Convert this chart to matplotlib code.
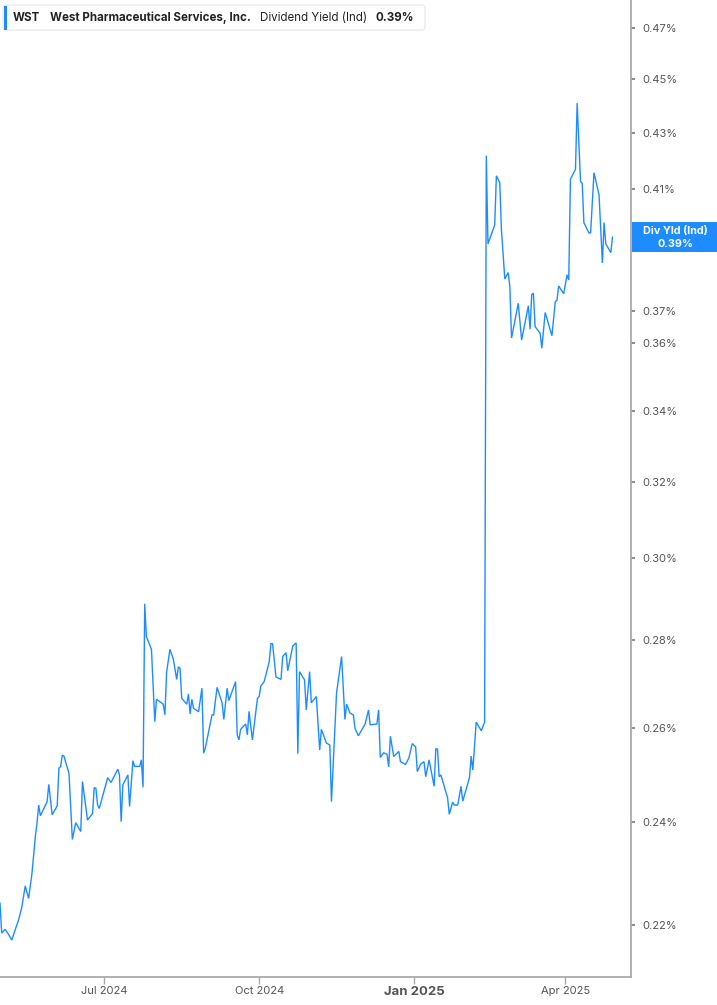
import matplotlib
matplotlib.use("Agg")
import matplotlib.pyplot as plt
import matplotlib.dates as mdates
import matplotlib.ticker as mticker
from matplotlib.patches import FancyBboxPatch, Rectangle
from matplotlib.transforms import IdentityTransform
import pandas as pd

plt.rcParams['font.family'] = ['Inter', 'DejaVu Sans']

dates = [
    '2024-04-30', '2024-05-01', '2024-05-03', '2024-05-05', '2024-05-07', '2024-05-09',
    '2024-05-11', '2024-05-13', '2024-05-15', '2024-05-17', '2024-05-19', '2024-05-21',
    '2024-05-22', '2024-05-23', '2024-05-24', '2024-05-28', '2024-05-29', '2024-05-31',
    '2024-06-03', '2024-06-04', '2024-06-05', '2024-06-06', '2024-06-07', '2024-06-10',
    '2024-06-12', '2024-06-14', '2024-06-17', '2024-06-18', '2024-06-21', '2024-06-24',
    '2024-06-25', '2024-06-26', '2024-06-27', '2024-06-28', '2024-07-03', '2024-07-05',
    '2024-07-09', '2024-07-10', '2024-07-11', '2024-07-12', '2024-07-15', '2024-07-16',
    '2024-07-18', '2024-07-19', '2024-07-22', '2024-07-23', '2024-07-24', '2024-07-25',
    '2024-07-26', '2024-07-29', '2024-07-31', '2024-08-01', '2024-08-05', '2024-08-06',
    '2024-08-07', '2024-08-09', '2024-08-11', '2024-08-13', '2024-08-14', '2024-08-15',
    '2024-08-16', '2024-08-19', '2024-08-20', '2024-08-21', '2024-08-22', '2024-08-23',
    '2024-08-26', '2024-08-28', '2024-08-29', '2024-08-30', '2024-09-03', '2024-09-04',
    '2024-09-06', '2024-09-09', '2024-09-10', '2024-09-12', '2024-09-13', '2024-09-17',
    '2024-09-18', '2024-09-19', '2024-09-20', '2024-09-23', '2024-09-24', '2024-09-25',
    '2024-09-27', '2024-09-30', '2024-10-01', '2024-10-02', '2024-10-04', '2024-10-07',
    '2024-10-08', '2024-10-09', '2024-10-11', '2024-10-14', '2024-10-15', '2024-10-17',
    '2024-10-18', '2024-10-21', '2024-10-23', '2024-10-24', '2024-10-25', '2024-10-28',
    '2024-10-29', '2024-10-31', '2024-11-01', '2024-11-04', '2024-11-06', '2024-11-07',
    '2024-11-10', '2024-11-12', '2024-11-13', '2024-11-16', '2024-11-19', '2024-11-21',
    '2024-11-22', '2024-11-24', '2024-11-26', '2024-11-27', '2024-11-29', '2024-12-03',
    '2024-12-05', '2024-12-06', '2024-12-10', '2024-12-11', '2024-12-12', '2024-12-14',
    '2024-12-16', '2024-12-17', '2024-12-18', '2024-12-20', '2024-12-23', '2024-12-24',
    '2024-12-27', '2024-12-29', '2024-12-31', '2025-01-02', '2025-01-03', '2025-01-05',
    '2025-01-07', '2025-01-08', '2025-01-10', '2025-01-13', '2025-01-14', '2025-01-15',
    '2025-01-16', '2025-01-17', '2025-01-21', '2025-01-22', '2025-01-24', '2025-01-25',
    '2025-01-27', '2025-01-29', '2025-01-30', '2025-02-03', '2025-02-04', '2025-02-05',
    '2025-02-07', '2025-02-10', '2025-02-12', '2025-02-13', '2025-02-14', '2025-02-18',
    '2025-02-19', '2025-02-21', '2025-02-22', '2025-02-24', '2025-02-26', '2025-02-27',
    '2025-02-28', '2025-03-04', '2025-03-06', '2025-03-10', '2025-03-11', '2025-03-12',
    '2025-03-13', '2025-03-14', '2025-03-17', '2025-03-18', '2025-03-20', '2025-03-24',
    '2025-03-26', '2025-03-27', '2025-03-28', '2025-03-31', '2025-04-02', '2025-04-03',
    '2025-04-04', '2025-04-07', '2025-04-08', '2025-04-10', '2025-04-11', '2025-04-12',
    '2025-04-15', '2025-04-16', '2025-04-18', '2025-04-21', '2025-04-23', '2025-04-24',
    '2025-04-25', '2025-04-28', '2025-04-29',
]

yield_pct = [
    0.2241, 0.2185, 0.2192, 0.2183, 0.2172, 0.2191,
    0.2209, 0.2234, 0.2274, 0.2250, 0.2298, 0.2371,
    0.2398, 0.2435, 0.2413, 0.2442, 0.2478, 0.2415,
    0.2433, 0.2512, 0.2515, 0.2540, 0.2538, 0.2501,
    0.2365, 0.2399, 0.2381, 0.2484, 0.2404, 0.2418,
    0.2471, 0.2470, 0.2435, 0.2428, 0.2492, 0.2482,
    0.2510, 0.2498, 0.2401, 0.2477, 0.2498, 0.2432,
    0.2528, 0.2516, 0.2516, 0.2530, 0.2472, 0.2887,
    0.2808, 0.2778, 0.2613, 0.2663, 0.2652, 0.2628,
    0.2724, 0.2778, 0.2755, 0.2708, 0.2737, 0.2734,
    0.2665, 0.2652, 0.2675, 0.2630, 0.2663, 0.2643,
    0.2635, 0.2688, 0.2544, 0.2555, 0.2628, 0.2628,
    0.2690, 0.2655, 0.2618, 0.2688, 0.2660, 0.2703,
    0.2584, 0.2573, 0.2596, 0.2608, 0.2584, 0.2636,
    0.2573, 0.2665, 0.2669, 0.2693, 0.2703, 0.2749,
    0.2792, 0.2791, 0.2714, 0.2708, 0.2761, 0.2770,
    0.2728, 0.2786, 0.2793, 0.2543, 0.2726, 0.2707,
    0.2639, 0.2726, 0.2655, 0.2669, 0.2551, 0.2596,
    0.2566, 0.2562, 0.2442, 0.2677, 0.2761, 0.2618,
    0.2652, 0.2632, 0.2628, 0.2598, 0.2582, 0.2608,
    0.2639, 0.2606, 0.2608, 0.2639, 0.2535, 0.2545,
    0.2542, 0.2515, 0.2581, 0.2537, 0.2548, 0.2526,
    0.2520, 0.2534, 0.2565, 0.2558, 0.2505, 0.2521,
    0.2526, 0.2494, 0.2530, 0.2474, 0.2554, 0.2553,
    0.2494, 0.2498, 0.2450, 0.2416, 0.2441, 0.2435,
    0.2435, 0.2474, 0.2443, 0.2492, 0.2538, 0.2508,
    0.2612, 0.2593, 0.2612, 0.4218, 0.3915, 0.3978,
    0.4147, 0.4123, 0.3962, 0.3800, 0.3821, 0.3776,
    0.3615, 0.3723, 0.3609, 0.3715, 0.3642, 0.3750,
    0.3755, 0.3650, 0.3630, 0.3584, 0.3694, 0.3622,
    0.3728, 0.3732, 0.3778, 0.3753, 0.3814, 0.3797,
    0.4135, 0.4170, 0.4410, 0.4127, 0.4121, 0.3986,
    0.3951, 0.3952, 0.4158, 0.4081, 0.3852, 0.3986,
    0.3915, 0.3886, 0.3937,
]

ytick_values = [0.22, 0.24, 0.26, 0.28, 0.30, 0.32, 0.34, 0.36, 0.37, 0.39, 0.41, 0.43, 0.45, 0.47]
ytick_labels = [f'{v:.2f}%' for v in ytick_values]
xtick_dates = ['2024-07-01', '2024-10-01', '2025-01-01', '2025-04-01']
xtick_labels = ['Jul 2024', 'Oct 2024', 'Jan 2025', 'Apr 2025']

ticker_symbol = 'WST'
company = 'West Pharmaceutical Services, Inc.'
metric = 'Dividend Yield (Ind)'
box_title = 'Div Yld (Ind)'

LINE = '#1E8CFF'
W, H = 717, 1005
fig = plt.figure(figsize=(W / 100, H / 100), dpi=100)
ax = fig.add_axes([0, 1 - 977 / H, 631 / W, 977 / H])

x = pd.to_datetime(dates)
ax.plot(x, yield_pct, color=LINE, lw=1.0, solid_joinstyle='miter')

ax.set_yscale('log')
ax.set_ylim(0.21053, 0.4812)
ax.set_xlim(pd.Timestamp('2024-04-30'), pd.Timestamp('2025-05-10'))

ax.yaxis.tick_right()
ax.yaxis.set_major_locator(mticker.FixedLocator(ytick_values))
ax.yaxis.set_major_formatter(mticker.FixedFormatter(ytick_labels))
ax.yaxis.set_minor_locator(mticker.NullLocator())
ax.yaxis.set_minor_formatter(mticker.NullFormatter())
ax.tick_params(axis='y', direction='out', length=3, width=1.2, color='#777',
               labelsize=8, labelcolor='#555', pad=5)

ax.set_xticks(pd.to_datetime(xtick_dates))
ax.set_xticklabels(xtick_labels)
ax.tick_params(axis='x', direction='out', length=5, width=1, color='#aaa',
               labelsize=8, labelcolor='#555', pad=1.5)
for lbl in ax.get_xticklabels():
    if lbl.get_text().startswith('Jan'):
        lbl.set_fontweight('bold')
        lbl.set_fontsize(9.5)

for s in ['left', 'top']:
    ax.spines[s].set_visible(False)
for s in ['right', 'bottom']:
    ax.spines[s].set_color('#aaa')
    ax.spines[s].set_linewidth(1.3)

# header box
idt = IdentityTransform()
hdr = FancyBboxPatch((3, H - 30), 422, 25, boxstyle='round,pad=0,rounding_size=3',
                     transform=idt, facecolor='white', edgecolor='#e6e6e6', lw=0.8)
fig.add_artist(hdr)
fig.add_artist(Rectangle((3.5, H - 29.5), 3.2, 24, transform=idt, facecolor=LINE,
                         edgecolor='none'))
ty = H - 17.5
fig.text(13, ty, ticker_symbol, transform=idt, va='center', ha='left',
         fontsize=8.3, fontweight='bold', color='#222')
fig.text(50, ty, company, transform=idt, va='center', ha='left',
         fontsize=8.3, fontweight='bold', color='#222')
fig.text(260, ty, metric, transform=idt, va='center', ha='left',
         fontsize=8.3, color='#222')
fig.text(376, ty, f'{yield_pct[-1]:.2f}%', transform=idt, va='center', ha='left',
         fontsize=8.3, fontweight='bold', color='#222')

# last-value box on right axis
last_x = mdates.date2num(x[-1])
yd = ax.transData.transform((last_x, yield_pct[-1]))[1]
fig.add_artist(Rectangle((632, yd - 15), W - 632, 30, transform=idt,
                         facecolor=LINE, edgecolor='none', zorder=5))
fig.text(675, yd + 6.5, box_title, transform=idt, ha='center', va='center',
         fontsize=7.8, fontweight='bold', color='white', zorder=6)
fig.text(675, yd - 6.5, f'{yield_pct[-1]:.2f}%', transform=idt, ha='center', va='center',
         fontsize=7.8, fontweight='bold', color='white', zorder=6)

fig.savefig('out.png', dpi=100)
